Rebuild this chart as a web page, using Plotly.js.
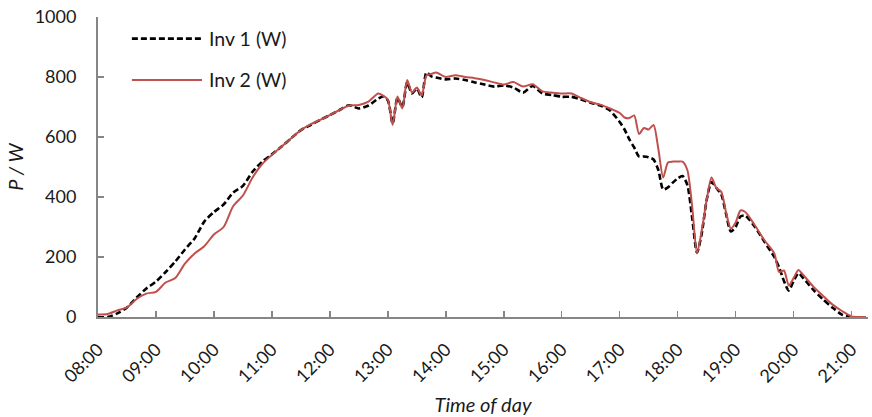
<!DOCTYPE html>
<html>
<head>
<meta charset="utf-8">
<script src="https://cdn.plot.ly/plotly-3.0.1.min.js"></script>
<style>
  html, body { margin: 0; padding: 0; background: #fff; }
  #chart { width: 872px; height: 417px; }
</style>
</head>
<body>
<div id="chart"></div>
<script>
// ---- data ----
const times = ["08:00","08:10","08:20","08:30","08:40","08:50","09:00","09:10","09:20","09:30","09:40","09:50",
  "10:00","10:10","10:20","10:30","10:40","10:50","11:00","11:10","11:20","11:30","11:40","11:50",
  "12:00","12:10","12:20","12:30","12:40","12:50","12:55","13:00","13:05","13:10","13:15","13:20","13:25","13:30","13:35","13:40","13:45",
  "13:50","14:00","14:10","14:20","14:30","14:40","14:50","15:00","15:10","15:20","15:30","15:40","15:50",
  "16:00","16:10","16:20","16:30","16:40","16:50",
  "17:00","17:05","17:10","17:15","17:20","17:25","17:30","17:35","17:40","17:45","17:50","17:55",
  "18:00","18:05","18:10","18:15","18:20","18:25","18:30","18:35","18:40","18:45","18:50","18:55",
  "19:00","19:05","19:10","19:20","19:30","19:40","19:45","19:50","19:55","20:00","20:05","20:10",
  "20:20","20:30","20:40","20:50","21:00","21:10","21:15"];

const inv1 = [0,0,12,32,65,95,118,150,185,225,262,318,
  350,375,415,437,484,518,542,568,596,623,640,657,
  673,690,706,695,705,728,735,722,645,730,700,782,745,762,732,815,802,
  798,792,795,790,782,775,768,772,765,748,770,745,740,
  734,734,725,714,705,688,
  650,625,592,565,535,535,532,525,490,425,432,448,
  462,470,440,330,215,280,390,450,430,410,345,285,
  300,335,338,300,250,200,165,120,88,120,146,130,
  92,60,32,8,0,null,null];

const inv2 = [8,10,22,32,60,78,84,115,130,178,212,236,
  275,300,370,405,465,510,540,568,596,623,642,657,
  673,690,705,707,718,745,738,725,640,735,695,790,748,765,738,805,810,
  815,800,806,800,796,790,782,775,783,768,776,752,748,
  745,745,730,716,708,695,
  680,665,663,672,610,630,625,640,560,465,515,518,
  518,518,490,368,212,290,390,465,430,418,350,295,
  315,355,350,305,255,212,150,155,105,130,157,140,
  103,72,42,20,2,0,0];

const seriesNames = ["Inv 1 (W)", "Inv 2 (W)"];
const hourTicks = ["08:00","09:00","10:00","11:00","12:00","13:00","14:00","15:00","16:00","17:00","18:00","19:00","20:00","21:00"];
const yTicks = [0,200,400,600,800,1000];

// ---- chart ----
const day = "2020-01-01 ";
const xs = times.map(t => day + t);
const FONT = "Lato, 'Open Sans', sans-serif";
const TXT = "#1a1a1a";
const AX = "#868686";

const traces = [
  { x: xs, y: inv1, name: seriesNames[0], type: "scatter", mode: "lines", connectgaps: false,
    line: { color: "#000000", width: 2.6, dash: "6px,3px", shape: "spline", smoothing: 0.7 } },
  { x: xs, y: inv2, name: seriesNames[1], type: "scatter", mode: "lines", connectgaps: false,
    line: { color: "#C0504D", width: 2, shape: "spline", smoothing: 0.7 } }
];

const layout = {
  width: 872, height: 417,
  margin: { l: 98, r: 4, t: 17, b: 100 },
  paper_bgcolor: "#ffffff", plot_bgcolor: "#ffffff",
  showlegend: false,
  font: { family: FONT, color: TXT, size: 18 },
  xaxis: {
    type: "date",
    range: [day + "08:00", day + "21:17"],
    tickvals: hourTicks.map(t => day + t),
    ticktext: hourTicks,
    tickangle: -45,
    tickfont: { family: FONT, size: 18, color: TXT },
    ticks: "inside", ticklen: 6, tickwidth: 1.5, tickcolor: AX,
    ticklabelstandoff: 13,
    showline: true, linecolor: AX, linewidth: 2,
    showgrid: false, zeroline: false,
    title: { text: "Time of day", font: { family: FONT, size: 20, color: TXT, style: "italic" }, standoff: 12 }
  },
  yaxis: {
    range: [0, 1000],
    tickvals: yTicks,
    tickfont: { family: FONT, size: 18, color: TXT },
    ticks: "inside", ticklen: 6, tickwidth: 1.5, tickcolor: AX,
    ticklabelstandoff: 16,
    showline: true, linecolor: AX, linewidth: 2,
    showgrid: false, zeroline: false,
    title: { text: "P / W", font: { family: FONT, size: 20, color: TXT, style: "italic" }, standoff: 6 }
  },
  shapes: [
    { type: "line", xref: "paper", yref: "paper", x0: 0.044, x1: 0.135, y0: 0.928, y1: 0.928,
      line: { color: "#000000", width: 2.6, dash: "6px,3px" } },
    { type: "line", xref: "paper", yref: "paper", x0: 0.044, x1: 0.135, y0: 0.79, y1: 0.79,
      line: { color: "#C0504D", width: 2 } }
  ],
  annotations: [
    { xref: "paper", yref: "paper", x: 0.142, y: 0.928, xanchor: "left", yanchor: "middle",
      text: seriesNames[0], showarrow: false, font: { family: FONT, size: 19.5, color: TXT } },
    { xref: "paper", yref: "paper", x: 0.142, y: 0.79, xanchor: "left", yanchor: "middle",
      text: seriesNames[1], showarrow: false, font: { family: FONT, size: 19.5, color: TXT } }
  ]
};

Plotly.newPlot("chart", traces, layout, { staticPlot: true, displayModeBar: false });
</script>
</body>
</html>
